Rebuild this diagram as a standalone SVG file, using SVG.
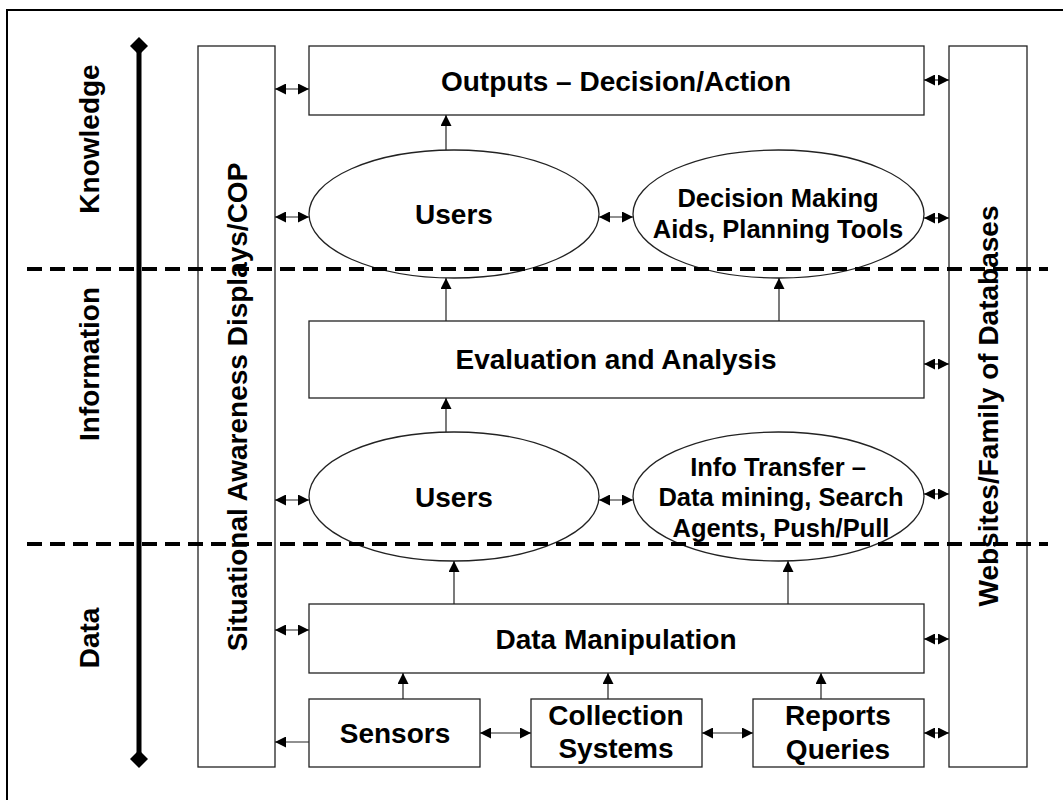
<svg xmlns="http://www.w3.org/2000/svg" width="1063" height="800" viewBox="0 0 1063 800">
  <style>
    .box { fill: #ffffff; stroke: #222; stroke-width: 1.3; }
    .lbl { font-family: "Liberation Sans", Arial, sans-serif; font-weight: bold; fill: #000; text-anchor: middle; }
    .big { font-size: 28px; }
    .mid { font-size: 25.5px; }
    .conn { stroke: #222; stroke-width: 1.2; fill: none; }
    .dash { stroke: #000; stroke-width: 4; stroke-dasharray: 15 8; fill: none; }
  </style>
  <defs>
    <marker id="ah" markerUnits="userSpaceOnUse" markerWidth="12" markerHeight="11" refX="11" refY="5.5" orient="auto-start-reverse">
      <path d="M0,0 L11,5.5 L0,11 z" fill="#000"/>
    </marker>
    <marker id="dia" markerUnits="userSpaceOnUse" markerWidth="20" markerHeight="20" refX="10" refY="10" orient="0">
      <path d="M10,1 L19,10 L10,19 L1,10 z" fill="#000"/>
    </marker>
  </defs>

  <rect width="1063" height="800" fill="#ffffff"/>
  <!-- outer frame (open on the right and bottom edges) -->
  <rect x="7" y="10" width="1200" height="900" fill="none" stroke="#000" stroke-width="2"/>

  <!-- layer axis -->
  <g id="axis">
    <line x1="139" y1="46" x2="139" y2="759" stroke="#000" stroke-width="5" marker-start="url(#dia)" marker-end="url(#dia)"/>
    <text class="lbl big" transform="translate(99,139) rotate(-90)">Knowledge</text>
    <text class="lbl big" transform="translate(99,364) rotate(-90)">Information</text>
    <text class="lbl big" transform="translate(99,638) rotate(-90)">Data</text>
  </g>

  <!-- side columns -->
  <g id="sa-displays">
    <rect class="box" x="198" y="46" width="77" height="721"/>
    <text class="lbl big" transform="translate(247,407) rotate(-90)">Situational Awareness Displays/COP</text>
  </g>
  <g id="websites">
    <rect class="box" x="949" y="46" width="78" height="721"/>
    <text class="lbl big" transform="translate(998,406) rotate(-90)">Websites/Family of Databases</text>
  </g>

  <!-- nodes -->
  <g id="outputs">
    <rect class="box" x="309" y="46" width="615" height="69"/>
    <text class="lbl big" x="616" y="91">Outputs – Decision/Action</text>
  </g>
  <g id="users-top">
    <ellipse class="box" cx="454" cy="214" rx="145" ry="64"/>
    <text class="lbl big" x="454" y="224">Users</text>
  </g>
  <g id="decision-aids">
    <ellipse class="box" cx="778.5" cy="214" rx="145.5" ry="64"/>
    <text class="lbl mid" x="778" y="207">Decision Making</text>
    <text class="lbl mid" x="778" y="238">Aids, Planning Tools</text>
  </g>
  <g id="evaluation">
    <rect class="box" x="309" y="321" width="615" height="77"/>
    <text class="lbl big" x="616" y="369">Evaluation and Analysis</text>
  </g>
  <g id="users-mid">
    <ellipse class="box" cx="454" cy="496.5" rx="145" ry="64.5"/>
    <text class="lbl big" x="454" y="507">Users</text>
  </g>
  <g id="info-transfer">
    <ellipse class="box" cx="778.5" cy="496.5" rx="145.5" ry="64.5"/>
    <text class="lbl mid" x="778" y="476">Info Transfer –</text>
    <text class="lbl mid" x="781" y="506">Data mining, Search</text>
    <text class="lbl mid" x="781" y="537">Agents, Push/Pull</text>
  </g>
  <g id="data-manipulation">
    <rect class="box" x="309" y="604" width="615" height="69"/>
    <text class="lbl big" x="616" y="649">Data Manipulation</text>
  </g>
  <g id="sensors">
    <rect class="box" x="309" y="699" width="171" height="68"/>
    <text class="lbl big" x="395" y="743">Sensors</text>
  </g>
  <g id="collection">
    <rect class="box" x="531" y="699" width="171" height="68"/>
    <text class="lbl big" x="616" y="725">Collection</text>
    <text class="lbl big" x="616" y="758">Systems</text>
  </g>
  <g id="reports">
    <rect class="box" x="753" y="699" width="171" height="68"/>
    <text class="lbl big" x="838" y="725">Reports</text>
    <text class="lbl big" x="838" y="759">Queries</text>
  </g>

  <!-- layer boundaries -->
  <g id="boundaries">
    <line class="dash" x1="27" y1="269" x2="1048" y2="269"/>
    <line class="dash" x1="27" y1="544" x2="1048" y2="544"/>
  </g>

  <!-- connectors -->
  <g id="connectors">
    <!-- left column links -->
    <line class="conn" x1="275" y1="89" x2="309" y2="89" marker-start="url(#ah)" marker-end="url(#ah)"/>
    <line class="conn" x1="275" y1="217" x2="309" y2="217" marker-start="url(#ah)" marker-end="url(#ah)"/>
    <line class="conn" x1="275" y1="500" x2="309" y2="500" marker-start="url(#ah)" marker-end="url(#ah)"/>
    <line class="conn" x1="275" y1="630" x2="309" y2="630" marker-start="url(#ah)" marker-end="url(#ah)"/>
    <line class="conn" x1="309" y1="742" x2="275" y2="742" marker-end="url(#ah)"/>
    <!-- right column links -->
    <line class="conn" x1="924" y1="80" x2="949" y2="80" marker-start="url(#ah)" marker-end="url(#ah)"/>
    <line class="conn" x1="924" y1="218" x2="949" y2="218" marker-start="url(#ah)" marker-end="url(#ah)"/>
    <line class="conn" x1="924" y1="364" x2="949" y2="364" marker-start="url(#ah)" marker-end="url(#ah)"/>
    <line class="conn" x1="924" y1="494" x2="949" y2="494" marker-start="url(#ah)" marker-end="url(#ah)"/>
    <line class="conn" x1="924" y1="639" x2="949" y2="639" marker-start="url(#ah)" marker-end="url(#ah)"/>
    <line class="conn" x1="924" y1="733" x2="949" y2="733" marker-start="url(#ah)" marker-end="url(#ah)"/>
    <!-- users to decision aids -->
    <line class="conn" x1="599" y1="217" x2="633" y2="217" marker-start="url(#ah)" marker-end="url(#ah)"/>
    <line class="conn" x1="599" y1="500" x2="633" y2="500" marker-start="url(#ah)" marker-end="url(#ah)"/>
    <!-- upward flow -->
    <line class="conn" x1="446" y1="150" x2="446" y2="115" marker-end="url(#ah)"/>
    <line class="conn" x1="446" y1="321" x2="446" y2="278" marker-end="url(#ah)"/>
    <line class="conn" x1="779" y1="321" x2="779" y2="278" marker-end="url(#ah)"/>
    <line class="conn" x1="446" y1="432" x2="446" y2="398" marker-end="url(#ah)"/>
    <line class="conn" x1="454" y1="604" x2="454" y2="561" marker-end="url(#ah)"/>
    <line class="conn" x1="788" y1="604" x2="788" y2="561" marker-end="url(#ah)"/>
    <line class="conn" x1="403" y1="699" x2="403" y2="673" marker-end="url(#ah)"/>
    <line class="conn" x1="608" y1="699" x2="608" y2="673" marker-end="url(#ah)"/>
    <line class="conn" x1="821" y1="699" x2="821" y2="673" marker-end="url(#ah)"/>
    <!-- bottom row links -->
    <line class="conn" x1="480" y1="733" x2="531" y2="733" marker-start="url(#ah)" marker-end="url(#ah)"/>
    <line class="conn" x1="702" y1="733" x2="753" y2="733" marker-start="url(#ah)" marker-end="url(#ah)"/>
  </g>
</svg>
